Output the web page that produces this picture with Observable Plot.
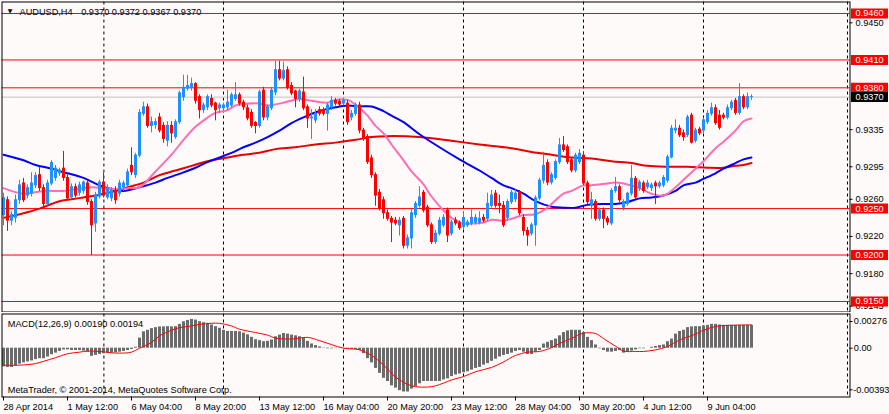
<!DOCTYPE html>
<html>
<head>
<meta charset="utf-8">
<script src="https://cdn.jsdelivr.net/npm/d3@7"></script>
<script src="https://cdn.jsdelivr.net/npm/@observablehq/plot@0.6"></script>
<style>
html,body{margin:0;padding:0;background:#fffafa;}
#chart{position:relative;width:889px;height:414px;overflow:hidden;background:#fffafa;}
#chart svg{position:absolute;left:0;}
</style>
</head>
<body>
<div id="chart"></div>
<script>
const symbolName = "AUDUSD,H4";
const opens = [0.9243,0.9259,0.9237,0.9240,0.9259,0.9277,0.9264,0.9266,0.9275,0.9286,
0.9272,0.9255,0.9277,0.9283,0.9288,0.9293,0.9283,0.9262,0.9273,0.9267,
0.9269,0.9277,0.9257,0.9234,0.9263,0.9278,0.9262,0.9261,0.9269,0.9266,
0.9273,0.9275,0.9296,0.9286,0.9307,0.9352,0.9359,0.9339,0.9340,0.9348,
0.9339,0.9323,0.9339,0.9327,0.9343,0.9370,0.9379,0.9380,0.9384,0.9370,
0.9356,0.9359,0.9368,0.9363,0.9358,0.9358,0.9359,0.9361,0.9368,0.9372,
0.9364,0.9358,0.9353,0.9342,0.9339,0.9377,0.9348,0.9358,0.9375,0.9399,
0.9390,0.9399,0.9382,0.9376,0.9368,0.9375,0.9359,0.9347,0.9345,0.9356,
0.9356,0.9352,0.9359,0.9366,0.9365,0.9363,0.9363,0.9348,0.9352,0.9361,
0.9334,0.9327,0.9304,0.9286,0.9267,0.9259,0.9245,0.9239,0.9237,0.9232,
0.9239,0.9210,0.9218,0.9243,0.9253,0.9267,0.9251,0.9232,0.9214,0.9223,
0.9232,0.9248,0.9223,0.9237,0.9234,0.9230,0.9232,0.9234,0.9235,0.9235,
0.9240,0.9239,0.9253,0.9266,0.9255,0.9253,0.9240,0.9257,0.9260,0.9267,
0.9240,0.9226,0.9223,0.9232,0.9261,0.9280,0.9299,0.9278,0.9283,0.9300,
0.9318,0.9316,0.9302,0.9291,0.9300,0.9307,0.9277,0.9253,0.9257,0.9239,
0.9248,0.9239,0.9234,0.9269,0.9273,0.9251,0.9255,0.9266,0.9282,0.9272,
0.9277,0.9273,0.9272,0.9277,0.9274,0.9275,0.9280,0.9305,0.9334,0.9336,
0.9331,0.9329,0.9350,0.9323,0.9335,0.9334,0.9343,0.9352,0.9358,0.9350,
0.9350,0.9348,0.9358,0.9366,0.9353,0.9370,0.9359,0.9370];
const highs = [0.9266,0.9262,0.9246,0.9264,0.9280,0.9282,0.9275,0.9288,0.9288,0.9294,
0.9275,0.9280,0.9301,0.9296,0.9293,0.9311,0.9286,0.9276,0.9276,0.9278,
0.9279,0.9279,0.9259,0.9267,0.9280,0.9288,0.9275,0.9272,0.9273,0.9280,
0.9279,0.9292,0.9315,0.9309,0.9356,0.9364,0.9362,0.9348,0.9346,0.9352,
0.9342,0.9343,0.9343,0.9345,0.9376,0.9393,0.9393,0.9390,0.9385,0.9372,
0.9363,0.9372,0.9372,0.9364,0.9363,0.9363,0.9377,0.9374,0.9385,0.9374,
0.9366,0.9361,0.9356,0.9343,0.9377,0.9380,0.9361,0.9380,0.9408,0.9408,
0.9407,0.9402,0.9385,0.9377,0.9378,0.9391,0.9361,0.9356,0.9356,0.9359,
0.9358,0.9363,0.9370,0.9368,0.9367,0.9368,0.9366,0.9355,0.9363,0.9364,
0.9336,0.9329,0.9307,0.9288,0.9270,0.9262,0.9248,0.9241,0.9240,0.9240,
0.9241,0.9221,0.9248,0.9257,0.9273,0.9269,0.9253,0.9234,0.9226,0.9240,
0.9243,0.9250,0.9237,0.9240,0.9236,0.9245,0.9237,0.9248,0.9243,0.9246,
0.9243,0.9266,0.9269,0.9269,0.9264,0.9257,0.9259,0.9269,0.9270,0.9269,
0.9243,0.9229,0.9234,0.9263,0.9282,0.9310,0.9302,0.9288,0.9302,0.9325,
0.9327,0.9318,0.9304,0.9309,0.9313,0.9311,0.9279,0.9267,0.9259,0.9250,
0.9250,0.9241,0.9271,0.9283,0.9275,0.9259,0.9267,0.9296,0.9284,0.9280,
0.9279,0.9280,0.9277,0.9279,0.9279,0.9285,0.9307,0.9339,0.9345,0.9339,
0.9334,0.9350,0.9352,0.9336,0.9337,0.9347,0.9355,0.9363,0.9361,0.9355,
0.9352,0.9361,0.9366,0.9368,0.9384,0.9372,0.9374,0.9372];
const lows = [0.9232,0.9226,0.9232,0.9235,0.9255,0.9257,0.9261,0.9263,0.9272,0.9269,
0.9252,0.9253,0.9275,0.9280,0.9285,0.9280,0.9259,0.9260,0.9262,0.9264,
0.9266,0.9254,0.9200,0.9225,0.9261,0.9262,0.9260,0.9258,0.9255,0.9263,
0.9269,0.9273,0.9286,0.9283,0.9305,0.9350,0.9337,0.9332,0.9336,0.9332,
0.9321,0.9317,0.9321,0.9325,0.9341,0.9366,0.9377,0.9377,0.9363,0.9347,
0.9353,0.9356,0.9359,0.9345,0.9353,0.9356,0.9356,0.9359,0.9366,0.9361,
0.9356,0.9345,0.9337,0.9331,0.9337,0.9345,0.9345,0.9356,0.9372,0.9388,
0.9388,0.9378,0.9372,0.9359,0.9365,0.9356,0.9337,0.9325,0.9342,0.9350,
0.9350,0.9334,0.9356,0.9361,0.9360,0.9361,0.9340,0.9345,0.9350,0.9331,
0.9323,0.9298,0.9283,0.9253,0.9248,0.9239,0.9237,0.9214,0.9232,0.9221,
0.9207,0.9207,0.9207,0.9240,0.9251,0.9246,0.9230,0.9212,0.9212,0.9221,
0.9230,0.9214,0.9221,0.9232,0.9227,0.9228,0.9230,0.9232,0.9233,0.9233,
0.9235,0.9237,0.9251,0.9251,0.9245,0.9230,0.9237,0.9255,0.9257,0.9243,
0.9221,0.9210,0.9221,0.9210,0.9259,0.9277,0.9275,0.9276,0.9281,0.9298,
0.9311,0.9298,0.9289,0.9289,0.9298,0.9275,0.9255,0.9239,0.9237,0.9237,
0.9229,0.9232,0.9232,0.9267,0.9257,0.9248,0.9253,0.9264,0.9260,0.9269,
0.9267,0.9271,0.9269,0.9255,0.9272,0.9273,0.9278,0.9304,0.9331,0.9327,
0.9323,0.9327,0.9320,0.9321,0.9329,0.9331,0.9341,0.9350,0.9340,0.9335,
0.9346,0.9346,0.9356,0.9351,0.9351,0.9357,0.9357,0.9367];
const closes = [0.9261,0.9237,0.9243,0.9259,0.9275,0.9259,0.9272,0.9277,0.9285,0.9272,
0.9255,0.9277,0.9299,0.9293,0.9291,0.9283,0.9261,0.9273,0.9264,0.9275,
0.9278,0.9257,0.9232,0.9264,0.9278,0.9264,0.9271,0.9269,0.9259,0.9277,
0.9277,0.9289,0.9289,0.9307,0.9353,0.9359,0.9339,0.9343,0.9343,0.9334,
0.9325,0.9339,0.9331,0.9343,0.9374,0.9380,0.9382,0.9384,0.9366,0.9356,
0.9361,0.9370,0.9361,0.9356,0.9361,0.9361,0.9364,0.9372,0.9372,0.9363,
0.9359,0.9347,0.9339,0.9339,0.9375,0.9348,0.9359,0.9377,0.9399,0.9390,
0.9398,0.9380,0.9374,0.9368,0.9376,0.9358,0.9347,0.9348,0.9352,0.9352,
0.9352,0.9361,0.9366,0.9363,0.9362,0.9366,0.9343,0.9352,0.9361,0.9334,
0.9325,0.9300,0.9286,0.9264,0.9250,0.9245,0.9239,0.9235,0.9234,0.9237,
0.9210,0.9218,0.9245,0.9255,0.9262,0.9248,0.9232,0.9214,0.9223,0.9237,
0.9240,0.9221,0.9235,0.9234,0.9229,0.9240,0.9235,0.9240,0.9240,0.9239,
0.9237,0.9255,0.9264,0.9253,0.9253,0.9232,0.9257,0.9267,0.9266,0.9245,
0.9226,0.9221,0.9232,0.9261,0.9280,0.9296,0.9278,0.9286,0.9300,0.9318,
0.9313,0.9300,0.9291,0.9307,0.9309,0.9277,0.9257,0.9259,0.9239,0.9248,
0.9239,0.9235,0.9269,0.9273,0.9259,0.9257,0.9266,0.9282,0.9262,0.9278,
0.9269,0.9277,0.9275,0.9274,0.9277,0.9283,0.9305,0.9336,0.9336,0.9329,
0.9327,0.9348,0.9321,0.9334,0.9331,0.9345,0.9352,0.9358,0.9342,0.9337,
0.9348,0.9358,0.9364,0.9353,0.9370,0.9359,0.9370,0.9370];

const pinkMaBars = [0,5,10,15,20,22,25,27,31,34,38,42,45,48,51,53,56,58,61,64,66,70,74,77,81,83,86,88,91,93,95,97,100,102,105,107,110,112,115,118,120,122,125,127,130,133,135,137,140,142,145,147,151,153,156,159,162,165,168,170,173,175,178,180,183,185,187];
const pinkMaValues = [0.9272,0.9266,0.9269,0.9269,0.9272,0.9273,0.9272,0.9271,0.9272,0.9273,0.9290,0.9308,0.9324,0.9338,0.9348,0.9353,0.9356,0.9361,0.9363,0.9363,0.9361,0.9364,0.9368,0.9366,0.9364,0.9367,0.9367,0.9362,0.9350,0.9339,0.9331,0.9319,0.9302,0.9290,0.9276,0.9263,0.9248,0.9240,0.9234,0.9234,0.9235,0.9238,0.9237,0.9239,0.9243,0.9244,0.9248,0.9255,0.9266,0.9269,0.9275,0.9275,0.9277,0.9278,0.9276,0.9272,0.9266,0.9264,0.9273,0.9281,0.9293,0.9301,0.9315,0.9322,0.9334,0.9344,0.9347];
const blueMaBars = [0,5,8,12,15,17,20,22,24,27,30,34,38,41,45,48,51,54,57,60,63,66,69,72,76,79,83,86,89,92,95,97,100,104,109,114,119,122,125,127,130,133,137,140,143,146,150,153,156,159,162,165,168,170,173,175,178,180,183,185,187];
const blueMaValues = [0.9308,0.9302,0.9297,0.9293,0.9289,0.9287,0.9283,0.9279,0.9275,0.9271,0.9269,0.9273,0.9278,0.9283,0.9289,0.9294,0.9300,0.9305,0.9310,0.9316,0.9321,0.9327,0.9334,0.9342,0.9350,0.9355,0.9359,0.9361,0.9360,0.9360,0.9355,0.9350,0.9343,0.9330,0.9316,0.9303,0.9291,0.9283,0.9275,0.9272,0.9266,0.9258,0.9252,0.9251,0.9251,0.9254,0.9255,0.9255,0.9257,0.9261,0.9262,0.9264,0.9269,0.9275,0.9278,0.9282,0.9288,0.9293,0.9299,0.9303,0.9305];
const redMaBars = [0,5,9,12,14,17,20,23,25,28,31,35,39,43,47,51,56,60,64,68,73,78,83,88,92,96,104,112,119,127,132,137,142,147,152,157,161,166,171,176,180,183,185,187];
const redMaValues = [0.9240,0.9245,0.9250,0.9255,0.9258,0.9260,0.9262,0.9264,0.9266,0.9269,0.9273,0.9278,0.9286,0.9291,0.9296,0.9301,0.9305,0.9308,0.9310,0.9314,0.9316,0.9319,0.9321,0.9324,0.9327,0.9328,0.9327,0.9323,0.9319,0.9315,0.9311,0.9308,0.9305,0.9304,0.9301,0.9299,0.9296,0.9295,0.9295,0.9294,0.9294,0.9296,0.9297,0.9299];

const macdMain = [-0.00155,-0.00160,-0.00160,-0.00149,-0.00133,-0.00122,-0.00114,-0.00106,-0.00095,-0.00087,
-0.00087,-0.00073,-0.00054,-0.00041,-0.00027,-0.00014,-0.00014,-0.00019,-0.00019,-0.00019,
-0.00024,-0.00033,-0.00068,-0.00060,-0.00052,-0.00046,-0.00041,-0.00041,-0.00038,-0.00033,
-0.00027,-0.00019,-0.00011,0.00008,0.00084,0.00136,0.00149,0.00163,0.00171,0.00177,
0.00177,0.00179,0.00177,0.00179,0.00198,0.00220,0.00231,0.00239,0.00234,0.00220,
0.00212,0.00207,0.00193,0.00179,0.00166,0.00149,0.00139,0.00139,0.00139,0.00136,
0.00125,0.00111,0.00090,0.00071,0.00063,0.00054,0.00057,0.00068,0.00095,0.00109,
0.00122,0.00117,0.00109,0.00103,0.00095,0.00084,0.00057,0.00035,0.00022,0.00011,
0.00003,-0.00005,-0.00005,-0.00003,0.00001,0.00002,-0.00008,-0.00011,-0.00011,-0.00019,
-0.00046,-0.00087,-0.00122,-0.00168,-0.00209,-0.00250,-0.00277,-0.00313,-0.00332,-0.00353,
-0.00364,-0.00364,-0.00340,-0.00318,-0.00296,-0.00277,-0.00277,-0.00277,-0.00277,-0.00277,
-0.00264,-0.00255,-0.00236,-0.00223,-0.00215,-0.00204,-0.00196,-0.00182,-0.00168,-0.00160,
-0.00141,-0.00128,-0.00109,-0.00092,-0.00073,-0.00060,-0.00052,-0.00041,-0.00027,-0.00019,
-0.00033,-0.00052,-0.00052,-0.00033,-0.00019,0.00035,0.00049,0.00063,0.00076,0.00103,
0.00130,0.00144,0.00149,0.00149,0.00149,0.00130,0.00090,0.00063,0.00027,-0.00005,
-0.00019,-0.00033,-0.00033,-0.00027,-0.00019,-0.00041,-0.00033,-0.00024,-0.00014,-0.00005,
-0.00005,0.00000,0.00008,0.00014,0.00022,0.00027,0.00054,0.00076,0.00117,0.00139,
0.00149,0.00171,0.00177,0.00179,0.00179,0.00185,0.00190,0.00198,0.00198,0.00193,
0.00190,0.00190,0.00190,0.00190,0.00190,0.00190,0.00190,0.00190];
const signalBars = [0,4,8,10,13,16,19,21,24,27,29,32,34,37,39,42,44,47,49,52,54,57,59,63,66,68,72,76,79,82,85,89,92,95,98,101,103,106,108,110,112,115,118,122,125,128,131,134,137,139,142,145,148,150,153,155,158,160,163,166,169,173,175,178,180,187];
const signalValues = [-0.00141,-0.00141,-0.00128,-0.00109,-0.00079,-0.00046,-0.00033,-0.00024,-0.00027,-0.00038,
-0.00041,-0.00033,0.00000,0.00049,0.00103,0.00149,0.00171,0.00185,0.00198,0.00207,
0.00207,0.00185,0.00158,0.00130,0.00109,0.00084,0.00076,0.00090,0.00063,0.00030,
0.00000,-0.00014,-0.00060,-0.00140,-0.00240,-0.00300,-0.00320,-0.00323,-0.00313,-0.00290,
-0.00264,-0.00236,-0.00196,-0.00160,-0.00114,-0.00060,-0.00033,-0.00027,0.00005,0.00039,
0.00082,0.00125,0.00122,0.00080,0.00017,-0.00024,-0.00027,-0.00027,-0.00014,0.00014,
0.00068,0.00117,0.00150,0.00180,0.00188,0.00194];

const levelLines = [0.9460, 0.9410, 0.9380, 0.9250, 0.9200, 0.9150];
const bidPrice = 0.9370;
const priceTicks = [0.9450, 0.9335, 0.9295, 0.9260, 0.9220, 0.9180, 0.9145];
const macdTopTick = 0.00276, macdZeroTick = 0, macdBottomTick = -0.00393;
const timeTickBars = [0,16,32,48,64,80,96,112,128,144,160,176];
const timeLabels = ["28 Apr 2014","1 May 12:00","6 May 04:00","8 May 20:00","13 May 12:00","16 May 04:00","20 May 20:00","23 May 12:00","28 May 04:00","30 May 20:00","4 Jun 12:00","9 Jun 04:00"];
const gridBars = [25.1, 55, 85, 115, 145, 175, 211];
const macdLabel = "MACD(12,26,9)";
const copyright = "MetaTrader, \u00a9 2001-2014, MetaQuotes Software Corp.";

// ---- layout / style ----
const bg = "#fffafa";
const bull = "#1e90ff", bear = "#ff0000";
const font = "'Liberation Sans', Arial, sans-serif";
const fs = 9.2;
const f4 = d3.format(".4f");
const xDomain = [-0.375, 211.625];
const xMax = xDomain[1];

const n = closes.length;
const candles = d3.range(n).map(i => ({i, o: opens[i], h: highs[i], l: lows[i], c: closes[i]}));
const col = d => d.c >= d.o ? bull : bear;
const series = (bars, vals) => bars.map((b, k) => ({b, v: vals[k]}));

const common = {
  width: 889, marginLeft: 1.5, marginRight: 39.5,
  x: {domain: xDomain, axis: null},
  style: {background: bg, fontFamily: font, fontSize: fs + "px", overflow: "visible"}
};

const last = n - 1;
const quote = [opens[last], highs[last], lows[last], closes[last]].map(f4).join(" ");

const mainPlot = Plot.plot({
  ...common,
  height: 312, marginTop: 1.5, marginBottom: 0.5,
  y: {domain: [0.9460 - (311.5 - 13) / 9290, 0.9460 + (13 - 1.5) / 9290], axis: null},
  marks: [
    Plot.ruleX(gridBars, {x: d => d, stroke: "#000", strokeDasharray: "3,3"}),
    Plot.ruleY([bidPrice], {y: d => d, stroke: "#c0c0c0"}),
    Plot.ruleY(levelLines, {y: d => d, stroke: "#ff0000"}),
    Plot.line(series(redMaBars, redMaValues), {x: "b", y: "v", stroke: "#e80000", strokeWidth: 2, curve: "catmull-rom"}),
    Plot.line(series(blueMaBars, blueMaValues), {x: "b", y: "v", stroke: "#0000ff", strokeWidth: 2, curve: "catmull-rom"}),
    Plot.line(series(pinkMaBars, pinkMaValues), {x: "b", y: "v", stroke: "#ff6eb4", strokeWidth: 2, curve: "catmull-rom"}),
    Plot.ruleX(candles, {x: "i", y1: "h", y2: "l", stroke: col, insetTop: -0.5, insetBottom: -0.5}),
    Plot.ruleX(candles, {x: "i", y1: d => Math.max(d.o, d.c), y2: d => Math.min(d.o, d.c), stroke: col, strokeWidth: 3, insetTop: -0.5, insetBottom: -0.5}),
    Plot.frame({stroke: "#000"}),
    Plot.ruleY(priceTicks, {y: d => d, x1: xMax, x2: xMax + 0.75, stroke: "#000"}),
    Plot.text(priceTicks, {y: d => d, frameAnchor: "right", dx: 5.5, textAnchor: "start", lineAnchor: "middle", text: f4, fill: "#000", fontSize: fs}),
    Plot.ruleY(levelLines, {y: d => d, x1: xMax + 0.375, x2: xMax + 9.625, stroke: "#ff0000", strokeWidth: 10}),
    Plot.text(levelLines, {y: d => d, frameAnchor: "right", dx: 5.5, textAnchor: "start", lineAnchor: "middle", text: f4, fill: "#fff", fontSize: fs}),
    Plot.ruleY([bidPrice], {y: d => d, x1: xMax + 0.375, x2: xMax + 9.625, stroke: "#000", strokeWidth: 10}),
    Plot.text([bidPrice], {y: d => d, frameAnchor: "right", dx: 5.5, textAnchor: "start", lineAnchor: "middle", text: f4, fill: "#fff", fontSize: fs}),
    Plot.text(["\u25bc"], {frameAnchor: "top-left", dx: 8, dy: 9, textAnchor: "middle", lineAnchor: "middle", fontFamily: "DejaVu Sans", fontSize: 6, fill: "#000"}),
    Plot.text([symbolName], {frameAnchor: "top-left", dx: 17.5, dy: 9.6, textAnchor: "start", lineAnchor: "middle", fill: "#000", fontSize: fs}),
    Plot.text([quote], {frameAnchor: "top-left", dx: 79.2, dy: 9.6, textAnchor: "start", lineAnchor: "middle", fill: "#000", fontSize: fs})
  ]
});

const macdFmt = d => d === 0 ? "0.00" : d.toFixed(5);
const macdText = macdLabel + " " + macdMain[last].toFixed(5) + " " + signalValues[signalValues.length - 1].toFixed(5);

const macdPlot = Plot.plot({
  ...common,
  height: 102, marginTop: 1.5, marginBottom: 17.5,
  y: {domain: [-(84.5 - 35.7) / 12030, (35.7 - 1.5) / 12030], axis: null},
  marks: [
    Plot.ruleX(gridBars, {x: d => d, stroke: "#000", strokeDasharray: "3,3"}),
    Plot.ruleX(macdMain, {x: (d, i) => i, y1: d => d, y2: 0, stroke: "#6b6b6b", strokeWidth: 3}),
    Plot.line(series(signalBars, signalValues), {x: "b", y: "v", stroke: "#ff0000", strokeWidth: 1, curve: "catmull-rom"}),
    Plot.frame({stroke: "#000"}),
    Plot.ruleY([macdTopTick], {y: d => d, x1: xMax, x2: xMax + 0.75, dy: 6.5, stroke: "#000"}),
    Plot.ruleY([macdZeroTick], {y: d => d, x1: xMax, x2: xMax + 0.75, stroke: "#000"}),
    Plot.ruleY([macdBottomTick], {y: d => d, x1: xMax, x2: xMax + 0.75, dy: -5.7, stroke: "#000"}),
    Plot.text([macdTopTick], {y: d => d, frameAnchor: "right", dx: 3.8, dy: 6.5, textAnchor: "start", lineAnchor: "middle", text: macdFmt, fill: "#000", fontSize: fs}),
    Plot.text([macdZeroTick], {y: d => d, frameAnchor: "right", dx: 3.8, textAnchor: "start", lineAnchor: "middle", text: macdFmt, fill: "#000", fontSize: fs}),
    Plot.text([macdBottomTick], {y: d => d, frameAnchor: "right", dx: 3.2, dy: -5.7, textAnchor: "start", lineAnchor: "middle", text: macdFmt, fill: "#000", fontSize: fs}),
    Plot.axisX(timeTickBars, {anchor: "bottom", tickSize: 4, tickPadding: 2.3, textAnchor: "start", tickFormat: d => timeLabels[timeTickBars.indexOf(d)], fontSize: fs, label: null, stroke: "#000", fill: "#000"}),
    Plot.text([macdText], {frameAnchor: "top-left", dx: 5.8, dy: 9.6, textAnchor: "start", lineAnchor: "middle", fill: "#000", fontSize: fs}),
    Plot.text([copyright], {frameAnchor: "bottom-left", dx: 5.8, dy: -7.1, textAnchor: "start", lineAnchor: "middle", fill: "#000", fontSize: fs})
  ]
});

const host = document.getElementById("chart");
mainPlot.style.top = "0px";
macdPlot.style.top = "312px";
host.appendChild(mainPlot);
host.appendChild(macdPlot);
</script>
</body>
</html>
